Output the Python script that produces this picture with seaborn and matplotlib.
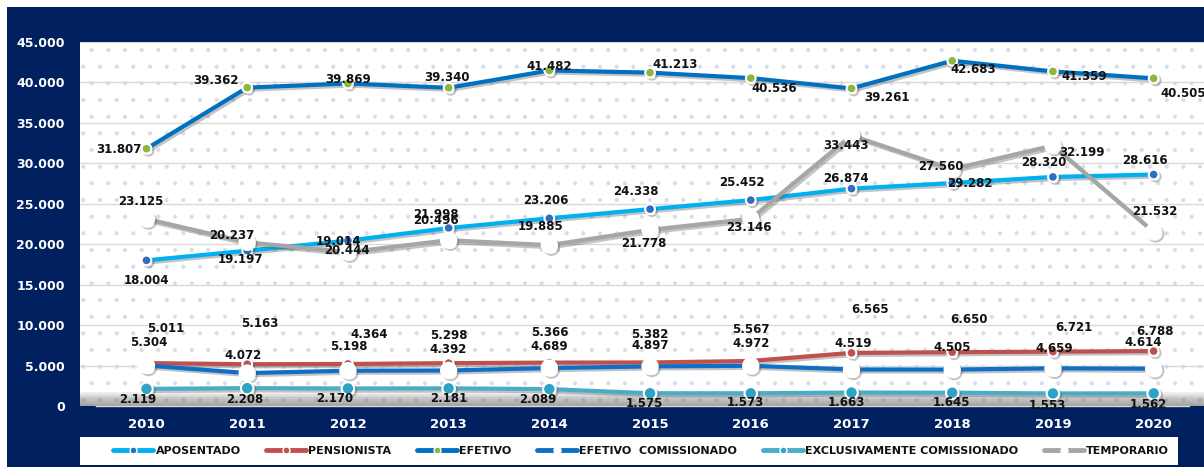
import matplotlib
matplotlib.use("Agg")
import matplotlib.pyplot as plt
import matplotlib.patheffects as pe
from matplotlib.lines import Line2D
from matplotlib.patches import Rectangle
from matplotlib.ticker import FuncFormatter
import seaborn as sns

# ── Data ───────────────────────────────────────────────────────────
anos = ["2010", "2011", "2012", "2013", "2014", "2015", "2016", "2017", "2018", "2019", "2020"]

aposentado   = [18004, 19197, 20444, 21998, 23206, 24338, 25452, 26874, 27560, 28320, 28616]
pensionista  = [5304, 5163, 5198, 5298, 5366, 5382, 5567, 6565, 6650, 6721, 6788]
efetivo      = [31807, 39362, 39869, 39340, 41482, 41213, 40536, 39261, 42683, 41359, 40505]
efetivo_com  = [5011, 4072, 4364, 4392, 4689, 4897, 4972, 4519, 4505, 4659, 4614]
exclusivo    = [2119, 2208, 2170, 2181, 2089, 1575, 1573, 1663, 1645, 1553, 1562]
temporario   = [23125, 20237, 19014, 20496, 19885, 21778, 23146, 33443, 29282, 32199, 21532]

# ── Label offsets (pixels, dy > 0 = up) ────────────────────────────
off_apos = [(0, -20), (-7, -9), (-1, -10), (-13, 14), (-4, 18), (-14, 18),
            (-9, 18), (-6, 10), (-11, 17), (-9, 14), (-9, 14)]
off_pens = [(2, 21), (13, 41), (1, 17), (0, 28), (0, 30), (0, 28),
            (0, 31), (19, 43), (17, 33), (21, 24), (1, 20)]
off_efet = [(-28, -1), (-31, 7), (0, 4), (-2, 10), (0, 4), (25, 8),
            (23, -10), (35, -9), (21, -9), (31, -5), (30, -15)]
off_ecom = [(19, 37), (-4, 18), (21, 36), (0, 21), (0, 22), (0, 21),
            (0, 22), (2, 26), (0, 22), (1, 20), (-10, 26)]
off_excl = [(-9, -11), (-2, -11), (-13, -10), (0, -10), (-12, -10), (-6, -10),
            (-5, -9), (-5, -10), (-1, -10), (-6, -12), (-5, -11)]
off_temp = [(-6, 17), (-15, 7), (-9, 11), (-13, 20), (-9, 19), (-6, -14),
            (-2, -9), (-6, -10), (18, -14), (29, -7), (1, 20)]

NAVY = "#002060"

series = [
    # name, values, line colour, marker colour, marker size, offsets
    ("APOSENTADO", aposentado, "#00B0F0", "#2E6DBF", 7, off_apos),
    ("PENSIONISTA", pensionista, "#C0504D", "#C0504D", 7, off_pens),
    ("EFETIVO", efetivo, "#0070C0", "#8DB63C", 7, off_efet),
    ("EFETIVO  COMISSIONADO", efetivo_com, "#0F6FC6", "#FFFFFF", 11, off_ecom),
    ("EXCLUSIVAMENTE COMISSIONADO", exclusivo, "#4BACC6", "#2FA3C4", 9, off_excl),
    ("TEMPORARIO", temporario, "#A6A6A6", "#FFFFFF", 11, off_temp),
]

sns.set_style("white")
plt.rcParams["font.family"] = ["DejaVu Sans"]

fig = plt.figure(figsize=(12.04, 4.70), dpi=100, facecolor="white")
# navy panel behind everything
fig.patches.append(Rectangle((7 / 1204, 3 / 470), 1 - 7 / 1204, 460 / 470,
                             transform=fig.transFigure, facecolor=NAVY,
                             edgecolor="none", zorder=-10))
# white legend box
fig.patches.append(Rectangle((80 / 1204, 5 / 470), 1098 / 1204, 28 / 470,
                             transform=fig.transFigure, facecolor="white",
                             edgecolor="none", zorder=-5))

ax = fig.add_axes([80 / 1204, 64 / 470, 1 - 80 / 1204, 364 / 470])
ax.set_facecolor("white")

# dotted background
plt.rcParams["hatch.color"] = "#D5DCEE"
plt.rcParams["hatch.linewidth"] = 0.5
ax.add_patch(Rectangle((0, 0), 1, 1, transform=ax.transAxes, facecolor="none",
                       edgecolor="#D5DCEE", hatch=".", lw=0, zorder=0))

x = list(range(len(anos)))

# gray "floor" shadow at zero
for i in range(8):
    ax.axhspan(0, 1700 * (i + 1) / 8, color="#6f6f6f", alpha=0.11, lw=0, zorder=1)

leg_handles = []
for name, vals, lc, mc, ms, offs in series:
    sns.lineplot(x=x, y=vals, color=lc, linewidth=3.0, marker="o",
                 markersize=ms, markerfacecolor=mc, markeredgecolor="white",
                 markeredgewidth=1.5, ax=ax, zorder=3)
    ln = ax.lines[-1]
    ln.set_path_effects([pe.SimpleLineShadow(offset=(1.5, -1.5), shadow_color="#555555", alpha=0.35),
                         pe.Normal()])
    for xi, v, (dx, dy) in zip(x, vals, offs):
        ax.annotate(f"{v:,}".replace(",", "."), (xi, v), xytext=(dx, dy),
                    textcoords="offset pixels", ha="center", va="center",
                    fontsize=8.5, fontweight="bold", color="#111111", zorder=5,
                    annotation_clip=False)
    leg_handles.append(Line2D([], [], color=lc, lw=3.5, marker="o", markersize=5,
                              markerfacecolor=mc, markeredgecolor="white",
                              markeredgewidth=1, label=name))

ax.set_xlim(-0.66, 10.35)
ax.set_ylim(0, 45000)
ax.set_yticks(range(0, 45001, 5000))
ax.yaxis.set_major_formatter(FuncFormatter(lambda v, p: f"{int(v):,}".replace(",", ".")))
ax.grid(axis="y", color="#D9D9D9", lw=1)
ax.grid(axis="x", visible=False)
ax.set_axisbelow(True)

ax.set_xticks(x)
ax.set_xticklabels(anos)
ax.set_xticks([i - 0.5 for i in range(len(anos) + 1)], minor=True)
ax.tick_params(axis="x", which="major", length=0, pad=9, labelsize=9.5, labelcolor="white")
ax.tick_params(axis="x", which="minor", length=5, color="#D9D9D9", width=1, direction="out")
ax.tick_params(axis="y", length=0, pad=11, labelsize=9, labelcolor="white")
for lab in ax.get_xticklabels() + ax.get_yticklabels():
    lab.set_fontweight("bold")

for s in ["top", "right", "left"]:
    ax.spines[s].set_visible(False)
ax.spines["bottom"].set_color("#D9D9D9")
ax.spines["bottom"].set_linewidth(1)
ax.spines["bottom"].set_bounds(-0.5, 10.35)
ax.set_xlabel("")
ax.set_ylabel("")

leg = fig.legend(handles=leg_handles, loc="center", ncol=6, frameon=False,
                 bbox_to_anchor=(641 / 1204, 19 / 470),
                 handlelength=3.6, handletextpad=0.2, columnspacing=2.3,
                 prop={"size": 8, "weight": "bold"})
for t in leg.get_texts():
    t.set_color("#111111")

fig.savefig("out.png", dpi=100, facecolor=fig.get_facecolor())
